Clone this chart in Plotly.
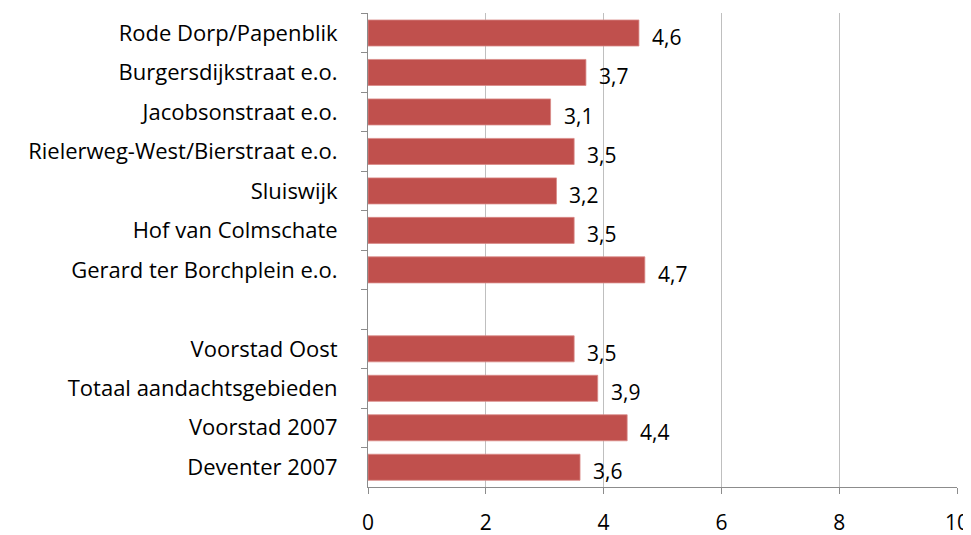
import plotly.graph_objects as go

categories = [
    "Rode Dorp/Papenblik",
    "Burgersdijkstraat e.o.",
    "Jacobsonstraat e.o.",
    "Rielerweg-West/Bierstraat e.o.",
    "Sluiswijk",
    "Hof van Colmschate",
    "Gerard ter Borchplein e.o.",
    " ",
    "Voorstad Oost",
    "Totaal aandachtsgebieden",
    "Voorstad 2007",
    "Deventer 2007",
]
values = [4.6, 3.7, 3.1, 3.5, 3.2, 3.5, 4.7, None, 3.5, 3.9, 4.4, 3.6]
x_ticks = [0, 2, 4, 6, 8, 10]

FONT = "'Open Sans', Lato, sans-serif"
BAR = "#C0504D"

fig = go.Figure()
fig.add_trace(go.Bar(
    y=categories,
    x=values,
    orientation="h",
    marker=dict(color=BAR, line=dict(color="#D98A88", width=0.8)),
    width=0.66,
    hoverinfo="skip",
))

for c, v in zip(categories, values):
    if v is None:
        continue
    fig.add_annotation(
        x=v, y=c, xref="x", yref="y",
        text=f"{v:.1f}".replace(".", ","),
        showarrow=False, xanchor="left", yanchor="middle",
        xshift=11, yshift=-4,
        font=dict(family=FONT, size=21, color="#000000"),
    )

# the page body has an 8px margin; size the figure so it fits the window
fig.update_layout(
    width=963, height=527,
    margin=dict(l=360, r=14, t=5, b=48),
    plot_bgcolor="white", paper_bgcolor="white",
    showlegend=False,
    font=dict(family=FONT, size=19, color="#000000"),
)
fig.update_xaxes(
    range=[0, 10],
    tickvals=x_ticks,
    ticktext=[str(t) for t in x_ticks],
    showgrid=True, gridcolor="#BFBFBF", gridwidth=1,
    zeroline=False,
    showline=True, linecolor="#8C8C8C", linewidth=1,
    ticks="outside", ticklen=6, tickcolor="#8C8C8C",
    ticklabelstandoff=11,
    automargin=False,
    tickfont=dict(family=FONT, size=21, color="#000000"),
)
fig.update_yaxes(
    type="category",
    categoryorder="array", categoryarray=categories,
    autorange="reversed",
    showgrid=False, zeroline=False,
    showline=True, linecolor="#8C8C8C", linewidth=1,
    ticks="outside", ticklen=6, tickcolor="#8C8C8C",
    tickson="boundaries",
    ticklabelstandoff=25,
    automargin=False,
    tickfont=dict(family=FONT, size=22, color="#000000"),
)

fig.write_html("out.html")
